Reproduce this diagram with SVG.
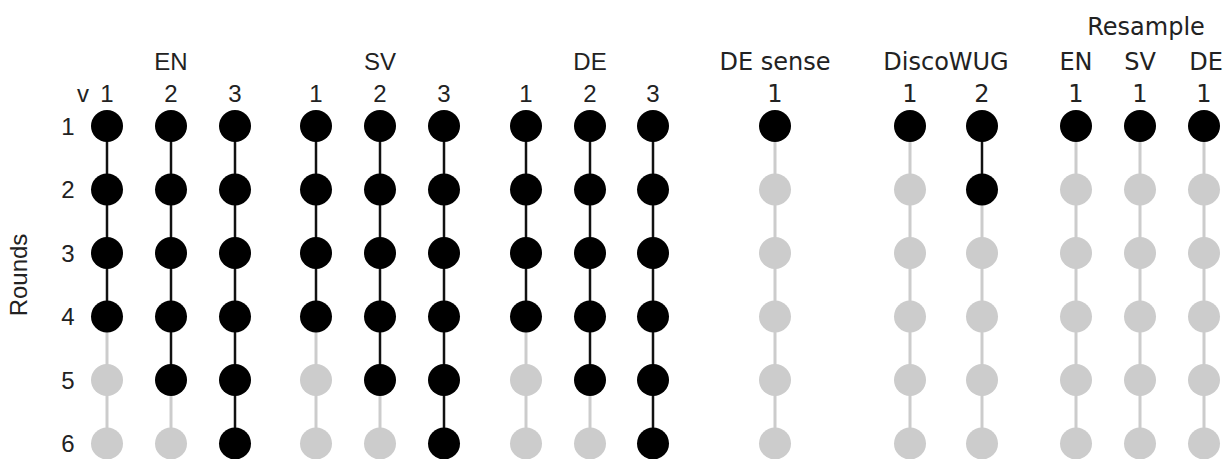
<svg xmlns="http://www.w3.org/2000/svg" width="1224" height="459" viewBox="0 0 1224 459">
<style>
.l{font-family:"Liberation Sans",Arial,sans-serif;font-size:24px;fill:#222;text-anchor:middle}
.d{font-family:"DejaVu Sans",Verdana,sans-serif;font-size:24px;fill:#222;text-anchor:middle}
.k{stroke:#111;stroke-width:2.5}
.g{stroke:#cccccc;stroke-width:3}
.b{fill:#000}
.n{fill:#cccccc}
</style>
<rect width="1224" height="459" fill="#fff"/>
<g id="labels">
<text class="l" x="171" y="70">EN</text>
<text class="l" x="380" y="70">SV</text>
<text class="l" x="590" y="70">DE</text>
<text class="d" x="775" y="70">DE sense</text>
<text class="d" x="946" y="70">DiscoWUG</text>
<text class="d" x="1146" y="35">Resample</text>
<text class="d" x="1076" y="70">EN</text>
<text class="d" x="1140" y="70">SV</text>
<text class="d" x="1206" y="70">DE</text>
<text class="l" x="83" y="102">v</text>
<text class="l" x="107" y="102">1</text><text class="l" x="171" y="102">2</text><text class="l" x="235" y="102">3</text>
<text class="l" x="316" y="102">1</text><text class="l" x="380" y="102">2</text><text class="l" x="444" y="102">3</text>
<text class="l" x="526" y="102">1</text><text class="l" x="590" y="102">2</text><text class="l" x="653" y="102">3</text>
<text class="d" x="775" y="102">1</text>
<text class="d" x="910" y="102">1</text><text class="d" x="982" y="102">2</text>
<text class="d" x="1076" y="102">1</text><text class="d" x="1140" y="102">1</text><text class="d" x="1204" y="102">1</text>
<text class="l" x="68" y="134.5">1</text>
<text class="l" x="68" y="198">2</text>
<text class="l" x="68" y="261.5">3</text>
<text class="l" x="68" y="325">4</text>
<text class="l" x="68" y="388.5">5</text>
<text class="l" x="68" y="452">6</text>
<text class="l" transform="translate(27,275) rotate(-90)">Rounds</text>
</g>
<g id="connectors">
<!-- EN -->
<line class="k" x1="107" y1="126" x2="107" y2="316.5"/><line class="g" x1="107" y1="316.5" x2="107" y2="443.5"/>
<line class="k" x1="171" y1="126" x2="171" y2="380"/><line class="g" x1="171" y1="380" x2="171" y2="443.5"/>
<line class="k" x1="235" y1="126" x2="235" y2="443.5"/>
<!-- SV -->
<line class="k" x1="316" y1="126" x2="316" y2="316.5"/><line class="g" x1="316" y1="316.5" x2="316" y2="443.5"/>
<line class="k" x1="380" y1="126" x2="380" y2="380"/><line class="g" x1="380" y1="380" x2="380" y2="443.5"/>
<line class="k" x1="444" y1="126" x2="444" y2="443.5"/>
<!-- DE -->
<line class="k" x1="526" y1="126" x2="526" y2="316.5"/><line class="g" x1="526" y1="316.5" x2="526" y2="443.5"/>
<line class="k" x1="590" y1="126" x2="590" y2="380"/><line class="g" x1="590" y1="380" x2="590" y2="443.5"/>
<line class="k" x1="653" y1="126" x2="653" y2="443.5"/>
<!-- DE sense -->
<line class="g" x1="775" y1="126" x2="775" y2="443.5"/>
<!-- DiscoWUG -->
<line class="g" x1="910" y1="126" x2="910" y2="443.5"/>
<line class="k" x1="982" y1="126" x2="982" y2="189.5"/><line class="g" x1="982" y1="189.5" x2="982" y2="443.5"/>
<!-- Resample -->
<line class="g" x1="1076" y1="126" x2="1076" y2="443.5"/>
<line class="g" x1="1140" y1="126" x2="1140" y2="443.5"/>
<line class="g" x1="1204" y1="126" x2="1204" y2="443.5"/>
</g>
<g id="nodes-EN">
<circle class="b" cx="107" cy="126" r="16"/><circle class="b" cx="107" cy="189.5" r="16"/><circle class="b" cx="107" cy="253" r="16"/><circle class="b" cx="107" cy="316.5" r="16"/><circle class="n" cx="107" cy="380" r="16"/><circle class="n" cx="107" cy="443.5" r="16"/>
<circle class="b" cx="171" cy="126" r="16"/><circle class="b" cx="171" cy="189.5" r="16"/><circle class="b" cx="171" cy="253" r="16"/><circle class="b" cx="171" cy="316.5" r="16"/><circle class="b" cx="171" cy="380" r="16"/><circle class="n" cx="171" cy="443.5" r="16"/>
<circle class="b" cx="235" cy="126" r="16"/><circle class="b" cx="235" cy="189.5" r="16"/><circle class="b" cx="235" cy="253" r="16"/><circle class="b" cx="235" cy="316.5" r="16"/><circle class="b" cx="235" cy="380" r="16"/><circle class="b" cx="235" cy="443.5" r="16"/>
</g>
<g id="nodes-SV">
<circle class="b" cx="316" cy="126" r="16"/><circle class="b" cx="316" cy="189.5" r="16"/><circle class="b" cx="316" cy="253" r="16"/><circle class="b" cx="316" cy="316.5" r="16"/><circle class="n" cx="316" cy="380" r="16"/><circle class="n" cx="316" cy="443.5" r="16"/>
<circle class="b" cx="380" cy="126" r="16"/><circle class="b" cx="380" cy="189.5" r="16"/><circle class="b" cx="380" cy="253" r="16"/><circle class="b" cx="380" cy="316.5" r="16"/><circle class="b" cx="380" cy="380" r="16"/><circle class="n" cx="380" cy="443.5" r="16"/>
<circle class="b" cx="444" cy="126" r="16"/><circle class="b" cx="444" cy="189.5" r="16"/><circle class="b" cx="444" cy="253" r="16"/><circle class="b" cx="444" cy="316.5" r="16"/><circle class="b" cx="444" cy="380" r="16"/><circle class="b" cx="444" cy="443.5" r="16"/>
</g>
<g id="nodes-DE">
<circle class="b" cx="526" cy="126" r="16"/><circle class="b" cx="526" cy="189.5" r="16"/><circle class="b" cx="526" cy="253" r="16"/><circle class="b" cx="526" cy="316.5" r="16"/><circle class="n" cx="526" cy="380" r="16"/><circle class="n" cx="526" cy="443.5" r="16"/>
<circle class="b" cx="590" cy="126" r="16"/><circle class="b" cx="590" cy="189.5" r="16"/><circle class="b" cx="590" cy="253" r="16"/><circle class="b" cx="590" cy="316.5" r="16"/><circle class="b" cx="590" cy="380" r="16"/><circle class="n" cx="590" cy="443.5" r="16"/>
<circle class="b" cx="653" cy="126" r="16"/><circle class="b" cx="653" cy="189.5" r="16"/><circle class="b" cx="653" cy="253" r="16"/><circle class="b" cx="653" cy="316.5" r="16"/><circle class="b" cx="653" cy="380" r="16"/><circle class="b" cx="653" cy="443.5" r="16"/>
</g>
<g id="nodes-DEsense">
<circle class="b" cx="775" cy="126" r="16"/><circle class="n" cx="775" cy="189.5" r="16"/><circle class="n" cx="775" cy="253" r="16"/><circle class="n" cx="775" cy="316.5" r="16"/><circle class="n" cx="775" cy="380" r="16"/><circle class="n" cx="775" cy="443.5" r="16"/>
</g>
<g id="nodes-DiscoWUG">
<circle class="b" cx="910" cy="126" r="16"/><circle class="n" cx="910" cy="189.5" r="16"/><circle class="n" cx="910" cy="253" r="16"/><circle class="n" cx="910" cy="316.5" r="16"/><circle class="n" cx="910" cy="380" r="16"/><circle class="n" cx="910" cy="443.5" r="16"/>
<circle class="b" cx="982" cy="126" r="16"/><circle class="b" cx="982" cy="189.5" r="16"/><circle class="n" cx="982" cy="253" r="16"/><circle class="n" cx="982" cy="316.5" r="16"/><circle class="n" cx="982" cy="380" r="16"/><circle class="n" cx="982" cy="443.5" r="16"/>
</g>
<g id="nodes-Resample">
<circle class="b" cx="1076" cy="126" r="16"/><circle class="n" cx="1076" cy="189.5" r="16"/><circle class="n" cx="1076" cy="253" r="16"/><circle class="n" cx="1076" cy="316.5" r="16"/><circle class="n" cx="1076" cy="380" r="16"/><circle class="n" cx="1076" cy="443.5" r="16"/>
<circle class="b" cx="1140" cy="126" r="16"/><circle class="n" cx="1140" cy="189.5" r="16"/><circle class="n" cx="1140" cy="253" r="16"/><circle class="n" cx="1140" cy="316.5" r="16"/><circle class="n" cx="1140" cy="380" r="16"/><circle class="n" cx="1140" cy="443.5" r="16"/>
<circle class="b" cx="1204" cy="126" r="16"/><circle class="n" cx="1204" cy="189.5" r="16"/><circle class="n" cx="1204" cy="253" r="16"/><circle class="n" cx="1204" cy="316.5" r="16"/><circle class="n" cx="1204" cy="380" r="16"/><circle class="n" cx="1204" cy="443.5" r="16"/>
</g>
</svg>
